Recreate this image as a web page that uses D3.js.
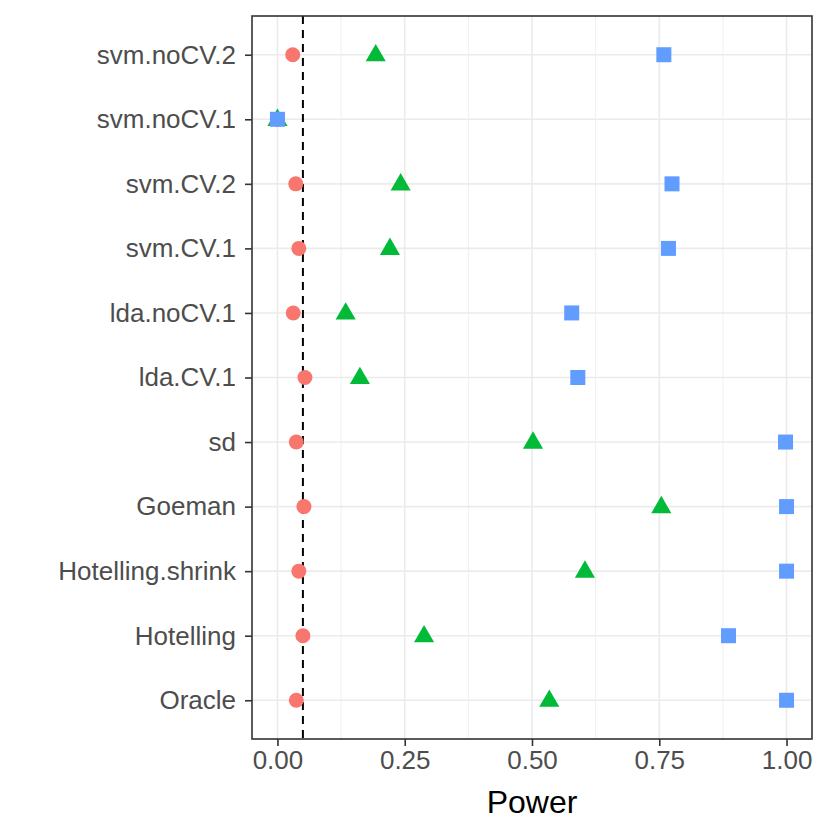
<!DOCTYPE html>
<html>
<head>
<meta charset="utf-8">
<script src="https://cdn.jsdelivr.net/npm/d3@7"></script>
<style>
  body { margin: 0; background: #fff; }
  text { font-family: "Liberation Sans", Arial, sans-serif; }
</style>
</head>
<body>
<div id="chart"></div>
<script>
var methods = ["Oracle", "Hotelling", "Hotelling.shrink", "Goeman", "sd", "lda.CV.1",
               "lda.noCV.1", "svm.CV.1", "svm.CV.2", "svm.noCV.1", "svm.noCV.2"];
var powerRed   = [0.037, 0.050, 0.042, 0.052, 0.037, 0.054, 0.031, 0.042, 0.036, 0.000, 0.030];
var powerGreen = [0.534, 0.288, 0.604, 0.754, 0.502, 0.162, 0.134, 0.221, 0.242, 0.000, 0.193];
var powerBlue  = [1.000, 0.886, 1.000, 1.000, 0.998, 0.590, 0.578, 0.768, 0.775, 0.000, 0.759];
var xTicks = [0, 0.25, 0.5, 0.75, 1];
var xMinor = [0.125, 0.375, 0.625, 0.875];
var alphaLevel = 0.05;

var w = 830, h = 830,
    p = {"top": 16, "right": 18, "left": 252, "bottom": 91};

var svg = d3.select("#chart").append("svg")
  .attr("width", w)
  .attr("height", h)

var x = d3.scaleLinear()
  .domain([-0.05, 1.05])
  .range([p.left, w - p.right])

var y = d3.scalePoint()
  .domain(methods)
  .range([h - p.bottom, p.top])
  .padding(0.6)

// grid
svg.selectAll("line.minor")
  .data(xMinor)
  .enter().append("line")
    .attr("x1", d => x(d)).attr("x2", d => x(d))
    .attr("y1", p.top).attr("y2", h - p.bottom)
    .attr("stroke", "#ebebeb").attr("stroke-width", 0.8)

svg.selectAll("line.majx")
  .data(xTicks)
  .enter().append("line")
    .attr("x1", d => x(d)).attr("x2", d => x(d))
    .attr("y1", p.top).attr("y2", h - p.bottom)
    .attr("stroke", "#ebebeb").attr("stroke-width", 1.6)

svg.selectAll("line.majy")
  .data(methods)
  .enter().append("line")
    .attr("x1", p.left).attr("x2", w - p.right)
    .attr("y1", d => y(d)).attr("y2", d => y(d))
    .attr("stroke", "#ebebeb").attr("stroke-width", 1.6)

// reference line
svg.append("line")
  .attr("x1", x(alphaLevel)).attr("x2", x(alphaLevel))
  .attr("y1", p.top).attr("y2", h - p.bottom)
  .attr("stroke", "#000").attr("stroke-width", 2)
  .attr("stroke-dasharray", "8,6")

// points: red circles, green triangles, blue squares
svg.selectAll("circle.red")
  .data(methods)
  .enter().append("circle")
    .attr("cx", (d, i) => x(powerRed[i]))
    .attr("cy", d => y(d))
    .attr("r", 7.5)
    .attr("fill", "#F8766D")

var tri = d3.symbol().type(d3.symbolTriangle).size(175)
svg.selectAll("path.green")
  .data(methods)
  .enter().append("path")
    .attr("d", tri)
    .attr("transform", (d, i) => "translate(" + x(powerGreen[i]) + "," + (y(d) + 0.8) + ")")
    .attr("fill", "#00BA38")

svg.selectAll("rect.blue")
  .data(methods)
  .enter().append("rect")
    .attr("x", (d, i) => x(powerBlue[i]) - 7.5)
    .attr("y", d => y(d) - 7.5)
    .attr("width", 15).attr("height", 15)
    .attr("fill", "#619CFF")

// panel border
svg.append("rect")
  .attr("x", p.left).attr("y", p.top)
  .attr("width", w - p.left - p.right)
  .attr("height", h - p.top - p.bottom)
  .attr("fill", "none").attr("stroke", "#333").attr("stroke-width", 1.6)

// axes
var xAxis = svg.append("g")
  .attr("transform", "translate(0," + (h - p.bottom) + ")")
  .call(d3.axisBottom(x).tickValues(xTicks).tickFormat(d3.format(".2f")).tickSize(7).tickPadding(5))
xAxis.select(".domain").remove()
xAxis.selectAll("line").attr("stroke", "#333").attr("stroke-width", 1.6)
xAxis.selectAll("text").attr("fill", "#4d4d4d").style("font-size", "26px")

var yAxis = svg.append("g")
  .attr("transform", "translate(" + p.left + ",0)")
  .call(d3.axisLeft(y).tickSize(7).tickPadding(9))
yAxis.select(".domain").remove()
yAxis.selectAll("line").attr("stroke", "#333").attr("stroke-width", 1.6)
yAxis.selectAll("text").attr("fill", "#4d4d4d").style("font-size", "26px")

svg.append("text")
  .attr("x", (p.left + w - p.right) / 2)
  .attr("y", 813)
  .attr("text-anchor", "middle")
  .attr("fill", "#000")
  .style("font-size", "32px")
  .text("Power")
</script>
</body>
</html>
